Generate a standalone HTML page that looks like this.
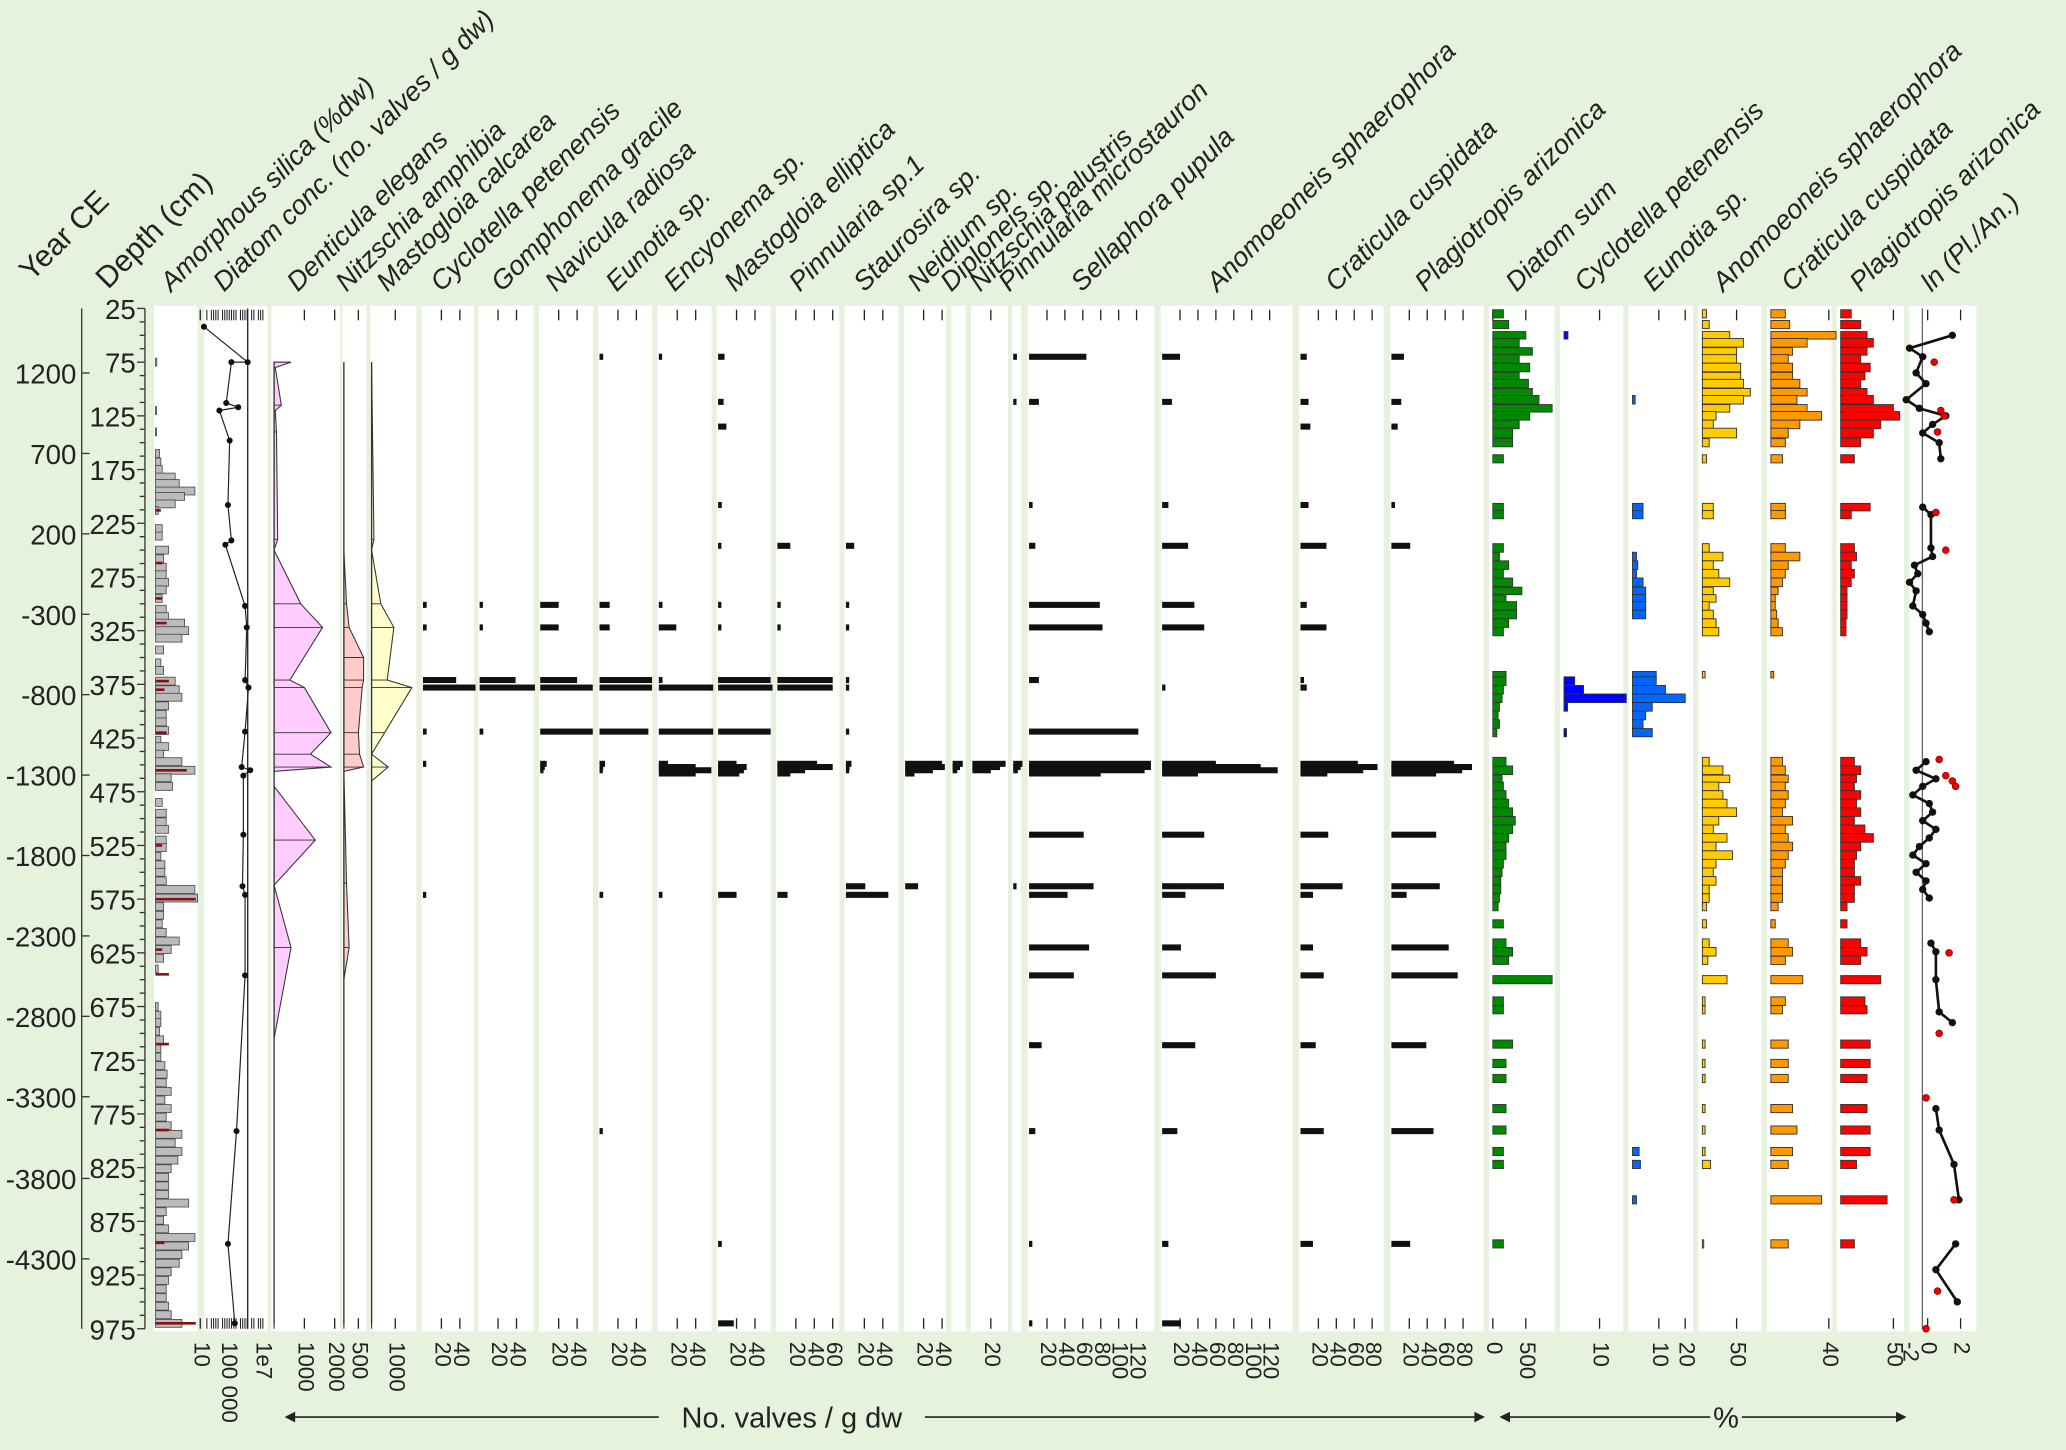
<!DOCTYPE html>
<html><head><meta charset="utf-8"><style>
html,body{margin:0;padding:0;background:#e6f1de;}
svg{display:block;font-family:"Liberation Sans",sans-serif;}
</style></head><body>
<svg id="chart" xmlns="http://www.w3.org/2000/svg" width="2066" height="1450" viewBox="0 0 1568 1100" preserveAspectRatio="none">
<rect x="0" y="0" width="1568" height="1100" fill="#e6f1de"/>
<g id="g"></g>
</svg>
<script>
// ---------- data ----------
const yearTicks = [1200,700,200,-300,-800,-1300,-1800,-2300,-2800,-3300,-3800,-4300];
const yearTickY = [283,344,405,466,527,588,649,710,771,832,894,955];
const depthTicks = [25,75,125,175,225,275,325,375,425,475,525,575,625,675,725,775,825,875,925,975];

const siDepth = [75,120,140,160,168,175,182,188,195,200,207,213,230,237,250,258,266,273,280,287,295,305,312,318,325,332,343,355,362,372,380,387,395,403,410,418,427,433,440,447,455,462,470,485,495,503,510,520,527,535,543,550,558,566,574,582,590,598,606,614,622,630,640,675,683,690,698,706,714,722,730,738,746,754,762,770,778,786,794,802,810,818,826,834,842,850,858,866,874,882,890,898,906,914,922,930,938,946,954,962,970];
const siVal = [0.3,0.2,0.2,0.9,1.2,1.5,4.4,5.3,8.8,6.5,4.4,0.6,1.5,1.5,2.9,1.8,2.4,2.4,2.9,2.4,1.5,2.4,2.9,6.5,7.4,5.9,1.8,1.2,1.8,4.4,5.3,5.9,2.9,2.4,2.4,2.9,1.2,2.9,1.8,5.9,8.8,3.5,3.8,1.5,2.4,2.4,2.9,2.4,2.4,1.2,2.1,2.1,2.4,8.8,9.4,1.8,1.8,1.5,2.4,5.3,3.5,1.8,0.6,0.6,1.2,1.2,0.9,1.8,1.2,1.2,2.1,2.6,2.4,3.5,2.1,3.5,2.4,3.5,5.9,4.4,5.9,5.0,3.5,2.9,2.9,2.9,7.4,2.4,1.8,2.9,8.8,7.4,5.9,5.3,3.5,2.9,2.4,2.4,2.9,3.5,5.9];
const siRedDepth = [213,262,295,318,372,380,420,455,525,575,622,645,710,790,895,970];
const siRedVal = [1.2,1.5,1.5,2.5,3,2,2.5,7,1.5,9,1.5,3,3,3,2,9];

const concDepth = [42,75,75,113,117,120,148,208,241,245,302,322,371,378,419,452,455,460,515,563,571,646,791,896,970];
const concLog = [3.6,6.15,5.2,4.9,5.6,4.5,5.1,5.0,5.2,4.85,6.0,6.1,6.0,6.2,6.0,5.8,6.3,5.9,5.9,5.85,6.0,6.0,5.5,5.0,5.4];

const denDepth = [75,80,115,120,140,240,250,300,322,371,378,420,440,452,456,470,520,562,620,705,975];
const denVal = [560,40,240,40,80,120,0,880,1600,520,1000,1880,1200,1880,0,0,1360,0,560,0,0];
const namDepth = [75,250,300,322,350,371,378,420,440,452,456,560,620,650,975];
const namVal = [0,0,90,180,680,680,630,500,540,680,0,90,180,0,0];
const mcaDepth = [75,240,250,300,322,371,378,420,440,452,465,975];
const mcaVal = [0,100,0,390,940,660,1700,550,0,700,0,0];

const cDepth = [70,112,135,208,246,301,322,371,378,419,449,452,455,458,515,563,571,620,646,711,791,896,970];
const cyc = [0,0,0,0,0,4,4,36,57,4,3,0,0,0,0,0,3,0,0,0,0,0,0];
const gom = [0,0,0,0,0,3,3,39,60,4,0,0,0,0,0,0,0,0,0,0,0,0,0];
const nav = [0,0,0,0,0,20,20,40,57,57,7,5,3,0,0,0,0,0,0,0,0,0,0];
const eun = [4,0,0,0,0,11,11,57,57,53,6,4,3,0,0,0,4,0,0,0,3,0,0];
const enc = [3,0,0,0,0,4,19,4,59,59,10,40,57,40,0,0,4,0,0,0,0,0,0];
const mel = [7,6,9,4,3,3,3,57,59,57,20,31,28,23,0,0,20,0,0,0,0,4,17];
const pin = [0,0,0,0,14,3,3,60,60,0,43,60,30,14,0,0,11,0,0,0,0,0,0];
const sta = [0,0,0,0,9,3,3,3,3,3,6,4,3,0,0,21,46,0,0,0,0,0,0];
const nei = [0,0,0,0,0,0,0,0,0,0,40,43,30,10,0,14,0,0,0,0,0,0,0];
const dip = [0,0,0,0,0,0,0,0,0,0,11,8,5,0,0,0,0,0,0,0,0,0,0];
const npa = [0,0,0,0,0,0,0,0,0,0,36,30,20,0,0,0,0,0,0,0,0,0,0];
const pmi = [4,3,0,0,0,0,0,0,0,0,10,8,5,0,0,3,0,0,0,0,0,0,0];
const sel = [64,11,0,4,7,79,82,11,0,122,136,136,129,80,61,72,43,67,50,14,7,3,3];
const anoC = [20,11,0,7,29,36,47,0,3,0,60,110,129,40,47,69,26,21,60,37,17,7,21];
const craC = [7,9,11,9,29,7,29,4,7,0,64,86,70,30,31,47,14,14,26,17,26,14,0];
const plaC = [14,11,7,4,21,0,0,0,0,0,70,90,79,50,50,54,17,64,74,39,47,21,0];

const pDepth = [30,40,50,57,65,72,80,88,95,103,110,118,125,133,141,150,165,210,217,248,256,264,272,280,288,295,302,310,318,326,366,372,380,388,396,404,412,420,447,455,463,470,478,486,494,502,510,518,526,534,542,550,558,566,574,582,598,616,624,632,650,670,678,710,728,742,770,790,810,822,855,896];
const dsum = [160,240,500,400,600,400,560,400,540,600,700,900,560,400,300,300,160,160,160,160,100,240,160,300,440,200,360,360,240,160,200,200,160,140,100,80,100,60,200,300,140,160,200,240,300,340,300,240,200,200,160,140,120,120,100,80,160,200,300,240,900,160,160,300,200,200,200,200,160,160,0,160];
const cycP = [0,0,1.1,0,0,0,0,0,0,0,0,0,0,0,0,0,0,0,0,0,0,0,0,0,0,0,0,0,0,0,0,3,5.5,17.5,1,0,0,0.7,0,0,0,0,0,0,0,0,0,0,0,0,0,0,0,0,0,0,0,0,0,0,0,0,0,0,0,0,0,0,0,0,0,0];
const eunP = [0,0,0,0,0,0,0,0,0,0,1,0,0,0,0,0,0,4,4,0,1.5,2,1.5,4,5,5,5,5,0,0,9,9,12.5,20,7.5,5,4,7.5,0,0,0,0,0,0,0,0,0,0,0,0,0,0,0,0,0,0,0,0,0,0,0,0,0,0,0,0,0,0,2.5,3,1.5,0];
const anoP = [6,10,40,60,50,50,56,56,60,70,60,40,20,16,50,10,6,16,16,10,30,16,24,40,16,20,10,16,20,24,4,0,0,0,0,0,0,0,10,30,40,24,30,36,50,24,16,36,20,44,20,16,20,10,10,6,6,10,20,8,36,4,4,4,4,4,4,4,4,12,0,2];
const craP = [10,13,45,25,15,12,15,15,20,25,18,25,35,20,12,10,8,10,10,10,20,12,10,8,5,3,3,4,5,8,2,0,0,0,0,0,0,0,8,10,12,10,12,10,8,15,10,12,15,12,10,8,8,8,8,5,3,12,15,10,22,10,8,12,12,12,15,18,15,12,35,12];
const plaP = [10,19,25,31,25,19,28,23,19,25,31,50,56,38,31,19,13,28,10,13,15,10,13,10,6,6,6,6,5,5,0,0,0,0,0,0,0,0,13,19,15,13,19,15,19,13,23,31,19,15,13,13,19,13,13,6,6,19,25,19,38,23,25,28,28,25,25,28,28,15,44,13];

const lnDepth = [50,62,70,85,95,110,118,125,133,141,150,165,210,217,248,256,264,272,280,288,302,310,318,326,447,455,463,470,478,486,494,502,510,518,526,534,542,550,558,566,574,616,624,650,680,690,770,790,822,855,896,920,950];
const lnVal = [1.5,-1.1,-0.3,-0.7,-0.1,-1.3,-0.5,1.1,0.3,-0.3,0.7,0.8,-0.3,0.2,0.2,0.3,-0.8,-0.6,-1.1,-0.7,-0.9,-0.3,-0.1,0.1,-0.1,-0.7,0.5,-0.3,-0.9,0.1,0.3,-0.3,0.5,0.1,-0.5,-0.9,-0.1,-0.7,-0.1,-0.3,0.1,0.2,0.5,0.5,0.7,1.5,0.5,0.7,1.6,1.9,1.7,0.5,1.8];
const lnRedDepth = [75,120,125,140,215,250,445,460,465,470,625,700,760,855,940,975];
const lnRedVal = [0.4,0.8,1.0,0.6,0.5,1.1,0.7,1.1,1.5,1.7,1.3,0.7,-0.1,1.6,0.6,-0.1];

// ---------- helpers ----------
const NS='http://www.w3.org/2000/svg';
const G=document.getElementById('g');
function el(tag,attrs,parent){const e=document.createElementNS(NS,tag);for(const k in attrs)e.setAttribute(k,attrs[k]);(parent||G).appendChild(e);return e;}
const Y0=234, Y1=1008;
function yOf(d){return Y0+(d-25)*(Y1-Y0)/950;}

// ---------- depth & year axes ----------
const ax=el('g',{});


el('line',{x1:110,y1:Y0,x2:110,y2:Y1,stroke:'#333','stroke-width':1},ax);
for(let d=25;d<=975;d+=12.5){el('line',{x1:(d-25)%50===0?104:106,y1:yOf(d),x2:110,y2:yOf(d),stroke:'#333','stroke-width':1},ax);}
depthTicks.forEach(d=>{const t=el('text',{x:103,y:yOf(d)+8,'text-anchor':'end','font-size':21,fill:'#222'},ax);t.textContent=d;
});
const yax=el('g',{});


el('line',{x1:62,y1:Y0,x2:62,y2:Y1,stroke:'#333','stroke-width':1},yax);
yearTicks.forEach((v,i)=>{el('line',{x1:62,y1:yearTickY[i],x2:68,y2:yearTickY[i],stroke:'#333'},yax);
 const t=el('text',{x:58,y:yearTickY[i]+8,'text-anchor':'end','font-size':21,fill:'#222'},yax);t.textContent=v;
 });

// ---------- panels ----------
const panels=[
 {id:'amorphous-silica',x0:117,x1:150,title:'Amorphous silica (%dw)',tx:130,ticks:[10],scale:3.4,lab:['10']},
 {id:'diatom-conc',x0:155,x1:203,title:'Diatom conc. (no. valves / g dw)',tx:170,ticks:[],lab:[]},
 {id:'denticula-elegans',x0:206,x1:258,title:'Denticula elegans',tx:226,ticks:[1000,2000],scale:0.023,lab:['1000','2000']},
 {id:'nitzschia-amphibia',x0:260,x1:278,title:'Nitzschia amphibia',tx:263,ticks:[500],scale:0.022,lab:['500']},
 {id:'mastogloia-calcarea',x0:281,x1:316,title:'Mastogloia calcarea',tx:294,ticks:[1000],scale:0.018,lab:['1000']},
 {id:'cyclotella-count',x0:320,x1:360,title:'Cyclotella petenensis',tx:335,ticks:[20,40],scale:0.7,data:cyc},
 {id:'gomphonema-count',x0:363,x1:405,title:'Gomphonema gracile',tx:381,ticks:[20,40],scale:0.7,data:gom},
 {id:'navicula-count',x0:409,x1:450,title:'Navicula radiosa',tx:422,ticks:[20,40],scale:0.7,data:nav},
 {id:'eunotia-count',x0:454,x1:495,title:'Eunotia sp.',tx:468,ticks:[20,40],scale:0.7,data:eun},
 {id:'encyonema-count',x0:499,x1:540,title:'Encyonema sp.',tx:512,ticks:[20,40],scale:0.7,data:enc},
 {id:'mastogloia-elliptica-count',x0:544,x1:585,title:'Mastogloia elliptica',tx:558,ticks:[20,40],scale:0.7,data:mel},
 {id:'pinnularia-count',x0:589,x1:637,title:'Pinnularia sp.1',tx:607,ticks:[20,40,60],scale:0.7,data:pin},
 {id:'staurosira-count',x0:641,x1:682,title:'Staurosira sp.',tx:656,ticks:[20,40],scale:0.7,data:sta},
 {id:'neidium-count',x0:686,x1:718,title:'Neidium sp.',tx:697,ticks:[20,40],scale:0.7,data:nei},
 {id:'diploneis-count',x0:722,x1:733,title:'Diploneis sp.',tx:722,ticks:[],scale:0.7,data:dip},
 {id:'nitzschia-palustris-count',x0:737,x1:765,title:'Nitzschia palustris',tx:744,ticks:[20],scale:0.7,data:npa},
 {id:'pinnularia-microstauron-count',x0:768,x1:775,title:'Pinnularia microstauron',tx:766,ticks:[],scale:0.7,data:pmi},
 {id:'sellaphora-count',x0:780,x1:876,title:'Sellaphora pupula',tx:821,ticks:[20,40,60,80,100,120],scale:0.68,data:sel},
 {id:'anomoeoneis-count',x0:881,x1:981,title:'Anomoeoneis sphaerophora',tx:924,ticks:[20,40,60,80,100,120],scale:0.68,data:anoC},
 {id:'craticula-count',x0:986,x1:1050,title:'Craticula cuspidata',tx:1014,ticks:[20,40,60,80],scale:0.68,data:craC},
 {id:'plagiotropis-count',x0:1055,x1:1126,title:'Plagiotropis arizonica',tx:1082,ticks:[20,40,60,80],scale:0.68,data:plaC},
 {id:'diatom-sum',x0:1130,x1:1180,title:'Diatom sum',tx:1151,ticks:[0,500],scale:0.05,pdata:dsum,col:'#008a00'},
 {id:'cyclotella-pct',x0:1184,x1:1232,title:'Cyclotella petenensis',tx:1203,ticks:[10],scale:2.7,pdata:cycP,col:'#0000ff'},
 {id:'eunotia-pct',x0:1236,x1:1285,title:'Eunotia sp.',tx:1255,ticks:[10,20],scale:2.0,pdata:eunP,col:'#0066ff'},
 {id:'anomoeoneis-pct',x0:1289,x1:1337,title:'Anomoeoneis sphaerophora',tx:1308,ticks:[50],scale:0.52,pdata:anoP,col:'#ffcc00'},
 {id:'craticula-pct',x0:1341,x1:1390,title:'Craticula cuspidata',tx:1360,ticks:[40],scale:1.1,pdata:craP,col:'#ff9900'},
 {id:'plagiotropis-pct',x0:1394,x1:1445,title:'Plagiotropis arizonica',tx:1412,ticks:[50],scale:0.8,pdata:plaP,col:'#ff0000'},
 {id:'ln-ratio',x0:1449,x1:1500,title:'ln (Pl./An.)',tx:1466,ticks:[],lab:[]}
];
const xBase={'amorphous-silica':118,'denticula-elegans':208,'nitzschia-amphibia':261,'mastogloia-calcarea':282};

panels.forEach(p=>{
 const g=el('g',{});
 
 
 el('rect',{x:p.x0,y:232,width:p.x1-p.x0,height:778,fill:'#fff'},g);
 const t=el('text',{x:p.tx,y:222,'font-size':20.5,'font-style':'italic',fill:'#222',transform:`rotate(-45 ${p.tx} 222)`},g);
 t.textContent=p.title;
 
 
 const base=xBase[p.id]!==undefined?xBase[p.id]:p.x0+(p.pdata?3:1);
 p.base=base;
 (p.ticks||[]).forEach((v,i)=>{
   const x=base+v*p.scale;
   el('line',{x1:x,y1:235,x2:x,y2:243,stroke:'#222'},g);
   el('line',{x1:x,y1:1000,x2:x,y2:1008,stroke:'#222'},g);
   const lt=el('text',{x:x,y:1018,'font-size':17,fill:'#222',transform:`rotate(90 ${x} 1018)`,'dominant-baseline':'middle'},g);
   lt.textContent=(p.lab&&p.lab[i])||v;
   
   
 });
 p.g=g;
});
function P(id){return panels.find(p=>p.id===id);}

// amorphous silica bars
(function(){const p=P('amorphous-silica');
 siDepth.forEach((d,i)=>{const r=el('rect',{x:p.base,y:yOf(d)-3,width:Math.max(siVal[i]*p.scale,0.8),height:6,fill:'#bbb',stroke:'#444','stroke-width':0.6},p.g);
 });
 siRedDepth.forEach((d,i)=>{const l=el('line',{x1:p.base,y1:yOf(d),x2:p.base+siRedVal[i]*p.scale,y2:yOf(d),stroke:'#8b1010','stroke-width':2},p.g);
 });
})();

// diatom conc
(function(){const p=P('diatom-conc');
 const xL=L=>173+(L-5)*13;
 const labs=[['100 000',173],['1e7',199]];
 labs.forEach(([s,x])=>{const lt=el('text',{x:x,y:1018,'font-size':17,fill:'#222',transform:`rotate(90 ${x} 1018)`,'dominant-baseline':'middle'},p.g);lt.textContent=s;
 });
 el('line',{x1:188,y1:234,x2:188,y2:1008,stroke:'#222','stroke-width':1},p.g);
 for(let x=157;x<201;x+=1.7){if(Math.floor(x*7)%5!==0){el('line',{x1:x,y1:235,x2:x,y2:243,stroke:'#222','stroke-width':0.8},p.g);el('line',{x1:x,y1:1000,x2:x,y2:1008,stroke:'#222','stroke-width':0.8},p.g);}}
 const pts=concDepth.map((d,i)=>xL(concLog[i])+','+yOf(d)).join(' ');
 const pl=el('polyline',{points:pts,fill:'none',stroke:'#222','stroke-width':0.9},p.g);
 
 concDepth.forEach((d,i)=>{const c=el('circle',{cx:xL(concLog[i]),cy:yOf(d),r:2.3,fill:'#111'},p.g);
 });
})();

// silhouette panels
function silhouette(id,dep,val,fill){const p=P(id);
 let pts=`${p.base},${yOf(dep[0])} `;
 dep.forEach((d,i)=>{pts+=`${p.base+val[i]*p.scale},${yOf(d)} `;});
 pts+=`${p.base},${yOf(dep[dep.length-1])}`;
 const poly=el('polygon',{points:pts,fill:fill,stroke:'#333','stroke-width':0.8},p.g);
 
 dep.forEach((d,i)=>{if(val[i]>0)el('line',{x1:p.base,y1:yOf(d),x2:p.base+val[i]*p.scale,y2:yOf(d),stroke:'#333','stroke-width':0.7},p.g);});
 el('line',{x1:p.base,y1:yOf(dep[0]),x2:p.base,y2:1005,stroke:'#333','stroke-width':1},p.g);
}
silhouette('denticula-elegans',denDepth,denVal,'#ffccff');
silhouette('nitzschia-amphibia',namDepth,namVal,'#ffcccc');
silhouette('mastogloia-calcarea',mcaDepth,mcaVal,'#ffffcc');

// count bars
panels.filter(p=>p.data).forEach(p=>{
 cDepth.forEach((d,i)=>{const v=p.data[i];if(v<=0)return;
  const r=el('rect',{x:p.base,y:yOf(d)-2.3,width:Math.max(v*p.scale,2.5),height:4.6,fill:'#111'},p.g);
  });
});

// percent bars
panels.filter(p=>p.pdata).forEach(p=>{
 pDepth.forEach((d,i)=>{const v=p.pdata[i];
  let h=6.2;
  if(i<pDepth.length-1&&pDepth[i+1]-d<10)h=(pDepth[i+1]-d)*774/950;
  if(v<=0){return;}
  const r=el('rect',{x:p.base,y:yOf(d)-h/2,width:Math.max(v*p.scale,1),height:h,fill:p.col,stroke:'#333','stroke-width':0.7},p.g);
  });
});

// ln ratio
(function(){const p=P('ln-ratio');
 const xV=v=>1463+v*12.5;
 [-2,0,2].forEach(v=>{const x=xV(v);
  if(v>-2){el('line',{x1:x,y1:235,x2:x,y2:243,stroke:'#222'},p.g);el('line',{x1:x,y1:1000,x2:x,y2:1008,stroke:'#222'},p.g);}
  const lx=Math.max(x,1449);
  const lt=el('text',{x:lx,y:1018,'font-size':17,fill:'#222',transform:`rotate(90 ${lx} 1018)`,'dominant-baseline':'middle'},p.g);lt.textContent=v;
  });
 el('line',{x1:1459,y1:234,x2:1459,y2:1008,stroke:'#666','stroke-width':1},p.g);
 for(let i=1;i<lnDepth.length;i++){if(lnDepth[i]-lnDepth[i-1]<=40){
  const l=el('line',{x1:xV(lnVal[i-1]),y1:yOf(lnDepth[i-1]),x2:xV(lnVal[i]),y2:yOf(lnDepth[i]),stroke:'#111','stroke-width':2},p.g);
  }}
 lnDepth.forEach((d,i)=>{const c=el('circle',{cx:xV(lnVal[i]),cy:yOf(d),r:2.8,fill:'#111'},p.g);
  });
 lnRedDepth.forEach((d,i)=>{const c=el('circle',{cx:xV(lnRedVal[i]),cy:yOf(d),r:2.6,fill:'#ee0000',stroke:'#700','stroke-width':0.5},p.g);
  });
})();

// header labels for axes
[['Year CE',24,214],['Depth (cm)',82,220]].forEach(([s,x,y],i)=>{
 const t=el('text',{x:x,y:y,'font-size':23,fill:'#222',transform:`rotate(-45 ${x} ${y})`});t.textContent=s;
 });

// bottom unit labels
(function(){const g=el('g',{});
 
 
 el('line',{x1:220,y1:1075,x2:500,y2:1075,stroke:'#222','stroke-width':1.3},g);
 el('polygon',{points:'216,1075 224,1071 224,1079',fill:'#222'},g);
 el('line',{x1:702,y1:1075,x2:1122,y2:1075,stroke:'#222','stroke-width':1.3},g);
 el('polygon',{points:'1127,1075 1119,1071 1119,1079',fill:'#222'},g);
 const t=el('text',{x:601,y:1083,'font-size':22,'text-anchor':'middle',fill:'#222'},g);t.textContent='No. valves / g dw';
 
 el('line',{x1:1142,y1:1075,x2:1298,y2:1075,stroke:'#222','stroke-width':1.3},g);
 el('polygon',{points:'1138,1075 1146,1071 1146,1079',fill:'#222'},g);
 el('line',{x1:1322,y1:1075,x2:1442,y2:1075,stroke:'#222','stroke-width':1.3},g);
 el('polygon',{points:'1447,1075 1439,1071 1439,1079',fill:'#222'},g);
 const t2=el('text',{x:1310,y:1083,'font-size':22,'text-anchor':'middle',fill:'#222'},g);t2.textContent='%';
 
})();
</script>
</body></html>
